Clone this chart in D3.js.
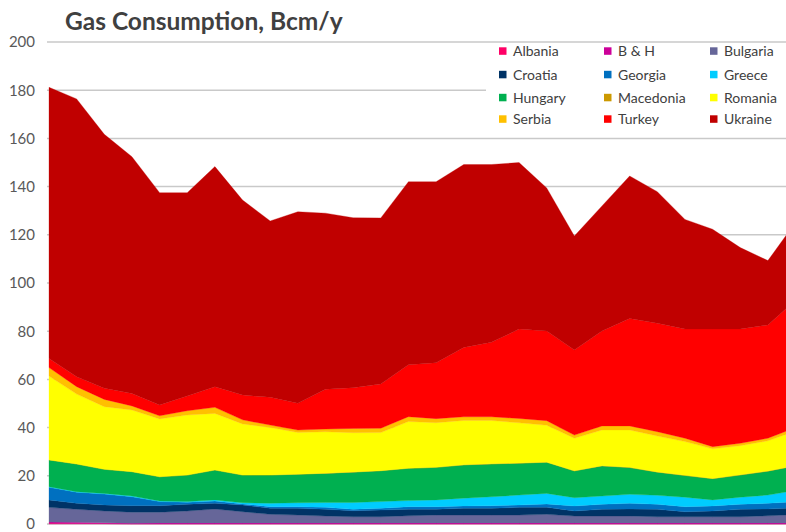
<!DOCTYPE html>
<html>
<head>
<meta charset="utf-8">
<script src="https://cdn.jsdelivr.net/npm/d3@7"></script>
<style>
  body { margin: 0; background: #fff; }
  svg { display: block; font-family: Lato, "Open Sans", sans-serif; }
</style>
</head>
<body>
<div id="chart"></div>
<script>
// gas consumption, Bcm/y, 1990..2017 (last year cut off by the frame)
let years = d3.range(1990, 2018);

let countries = ["Albania", "B & H", "Bulgaria", "Croatia", "Georgia", "Greece",
                 "Hungary", "Macedonia", "Romania", "Serbia", "Turkey", "Ukraine"];

let colors = ["#ff0066", "#cc0099", "#666699", "#003366", "#0070c0", "#00ccff",
              "#00b050", "#cc9900", "#ffff00", "#ffc000", "#ff0000", "#c00000"];

let albania   = [0.3,0.25,0.2,0.05,0.05,0.03,0.03,0.03,0.03,0.03,0.03,0.03,0.03,0.03,0.03,0.03,0.03,0.03,0.03,0.03,0.03,0.03,0.03,0.03,0.03,0.03,0.03,0.05];
let bh        = [0.5,0.45,0.35,0.3,0.35,0.37,0.37,0.37,0.37,0.37,0.37,0.37,0.37,0.37,0.37,0.37,0.37,0.37,0.37,0.37,0.37,0.37,0.37,0.37,0.37,0.37,0.37,0.35];
let bulgaria  = [6.1,5.4,4.85,4.55,4.5,5.0,5.8,4.7,3.6,3.3,2.9,2.6,2.6,3.0,3.3,3.3,3.3,3.3,3.6,2.9,2.9,2.9,2.6,2.6,2.6,2.6,3.0,3.5];
let croatia   = [3.1,2.5,2.5,2.7,2.7,2.8,2.4,2.8,2.5,2.8,2.8,2.5,2.8,2.7,2.4,2.8,2.8,3.2,2.9,2.1,2.8,2.9,3.1,2.1,2.4,3.1,2.8,2.8];
let georgia   = [5.2,4.6,4.5,3.7,1.7,0.8,0.9,0.4,0.7,0.7,0.8,0.6,0.7,1.1,1.1,1.0,1.1,1.0,1.4,2.1,2.1,2.4,2.1,2.1,2.1,2.1,2.4,2.5];
let greece    = [0.3,0.2,0.3,0.3,0.2,0.3,0.5,0.5,1.4,1.6,2.0,2.8,2.8,2.5,2.8,3.2,3.7,4.1,4.4,3.4,3.4,3.7,3.7,3.9,2.5,2.9,3.4,4.7];
let hungary   = [11.1,11.5,10.0,10.1,10.1,11.0,12.4,11.5,11.7,11.8,12.1,12.6,12.8,13.4,13.5,13.8,13.6,13.2,12.9,11.1,12.5,11.1,9.6,9.0,8.8,9.2,9.9,10.2];
let macedonia = [0,0,0,0,0,0,0,0.02,0.05,0.07,0.08,0.07,0.02,0.03,0.02,0.07,0.07,0.07,0.07,0.08,0.1,0.1,0.1,0.1,0.1,0.1,0.1,0.1];
let romania   = [34.8,29.0,26.0,25.6,24.0,24.9,23.5,21.2,19.7,17.3,17.2,16.3,15.8,19.4,18.5,18.4,18.0,16.7,15.3,13.5,14.8,15.5,14.9,14.0,12.3,12.1,12.5,14.4];
let serbia    = [3.5,3.1,3.0,1.7,1.3,1.8,2.5,1.7,1.0,1.0,1.1,1.8,1.8,2.0,1.7,1.5,1.5,1.8,1.9,1.3,1.7,1.7,1.8,1.4,0.9,1.0,1.1,1.4];
let turkey    = [3.8,4.1,4.6,5.2,4.5,6.1,8.6,10.3,11.5,11.1,16.5,16.9,18.4,21.5,23.2,28.8,30.9,37.1,37.2,35.3,39.4,44.6,45.0,45.3,48.8,47.4,47.0,52.9];
let ukraine   = [112.5,115.3,105.4,98.2,88.1,84.4,91.3,80.9,73.2,79.5,73.1,70.5,68.9,76.0,75.1,75.9,73.8,69.1,59.4,47.3,51.9,59.1,54.6,45.5,41.4,33.8,26.7,32.3];

let series = [albania, bh, bulgaria, croatia, georgia, greece, hungary,
              macedonia, romania, serbia, turkey, ukraine];

let yTicks = d3.range(0, 201, 20);

let width = 786, height = 532;
let margin = { top: 42, bottom: 8, left: 49, right: 0 };

let table = years.map((yr, i) => {
  let row = { year: yr };
  countries.forEach((c, k) => row[c] = series[k][i]);
  return row;
});

let svg = d3.select("#chart")
            .append("svg")
            .attr("width", width)
            .attr("height", height);

let yscale = d3.scaleLinear()
               .domain([0, 200])
               .range([height - margin.bottom, margin.top]);

// one year step is ~27.65px, the last year sits past the right edge
let xscale = d3.scaleLinear()
               .domain([1990, 2017])
               .range([margin.left, margin.left + 27 * 27.65]);

// gridlines
svg.append("g")
   .selectAll("line")
   .data(yTicks)
   .enter()
   .append("line")
   .attr("x1", 47)
   .attr("x2", width)
   .attr("y1", d => yscale(d))
   .attr("y2", d => yscale(d))
   .attr("stroke", d => d == 0 ? "#bfbfbf" : "#c9c9c9")
   .attr("stroke-width", 1.5);

let stack = d3.stack().keys(countries);
let layers = stack(table);

let area = d3.area()
             .x(d => xscale(d.data.year))
             .y0(d => yscale(d[0]))
             .y1(d => yscale(d[1]));

svg.append("g")
   .selectAll("path")
   .data(layers)
   .enter()
   .append("path")
   .attr("d", area)
   .attr("fill", (d, i) => colors[i])
   .attr("stroke", (d, i) => colors[i])
   .attr("stroke-width", 0.3);

// y axis labels, no axis line
let yaxis = svg.append("g")
               .attr("transform", `translate(${margin.left - 14}, 0)`)
               .call(d3.axisLeft(yscale).tickValues(yTicks).tickSize(0).tickPadding(0));
yaxis.select(".domain").remove();
yaxis.selectAll("text")
     .attr("font-family", "Lato, sans-serif")
     .attr("font-size", 15)
     .attr("fill", "#595959");

svg.append("text")
   .text("Gas Consumption, Bcm/y")
   .attr("x", 65)
   .attr("y", 30)
   .attr("font-size", 24.5)
   .attr("font-weight", "bold")
   .attr("fill", "#404040");

// legend, on a white box that hides the gridlines behind it
let legend = svg.append("g");
legend.append("rect")
      .attr("x", 486)
      .attr("y", 44)
      .attr("width", width - 486)
      .attr("height", 88)
      .attr("fill", "#fff");

let colX = [499, 604, 710];
let rowY = [51, 74.5, 97.5, 119];

let items = legend.selectAll("g.item")
                  .data(countries)
                  .enter()
                  .append("g")
                  .attr("class", "item")
                  .attr("transform", (d, i) => `translate(${colX[i % 3]}, ${rowY[Math.floor(i / 3)]})`);

items.append("rect")
     .attr("x", 0)
     .attr("y", -3.7)
     .attr("width", 7.5)
     .attr("height", 7.5)
     .attr("fill", (d, i) => colors[i]);

items.append("text")
     .text(d => d)
     .attr("x", 14)
     .attr("y", 5)
     .attr("font-size", 14)
     .attr("fill", "#404040");
</script>
</body>
</html>
